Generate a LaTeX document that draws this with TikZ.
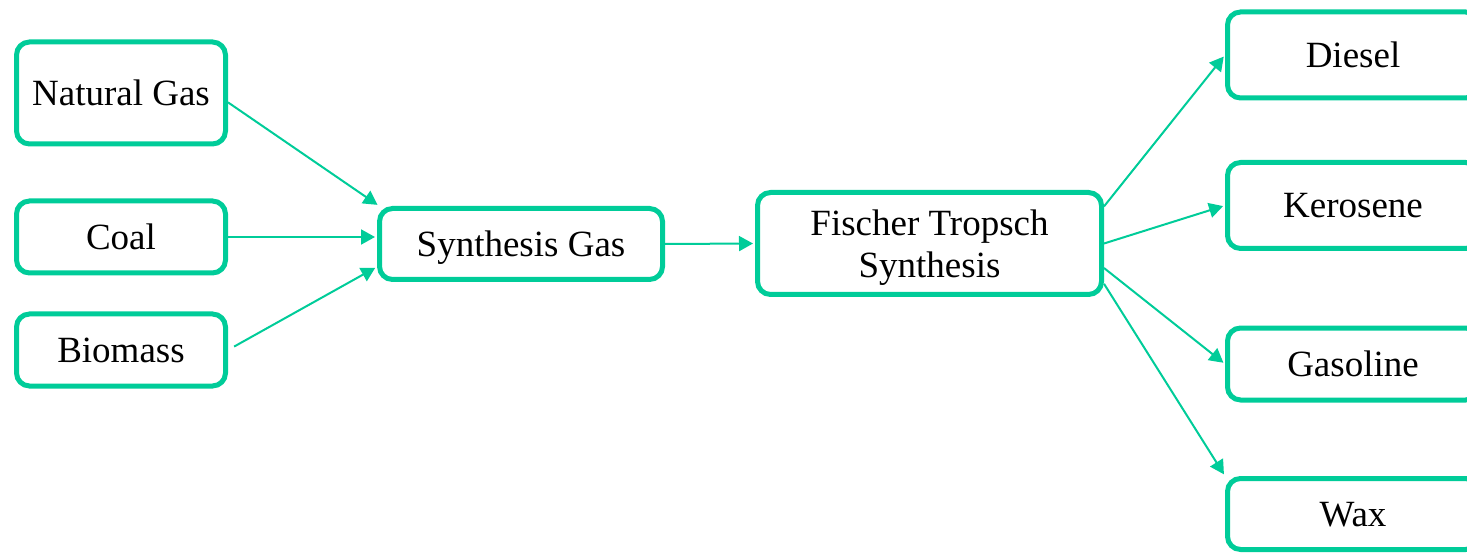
\documentclass[tikz,border=0pt]{standalone}
\usepackage{fontspec}
\setmainfont{Liberation Serif}
\usetikzlibrary{arrows.meta}
\definecolor{ftgreen}{RGB}{0,204,153}

\begin{document}
\begin{tikzpicture}[x=1pt,y=-1pt,
	proc/.style={draw=ftgreen, line width=5pt, rounded corners=13pt, inner sep=0pt, text depth=0pt, align=center, font=\fontsize{37}{42}\selectfont},
	flow/.style={draw=ftgreen, line width=2pt, shorten >=2pt, -{Triangle[length=14pt,width=15pt]}}]
	\clip (0,0) rectangle (1467,553);
	%\draw[help lines] (0,0) grid[step=100] (1467,553);
	% feedstocks
	\node[proc, minimum width=209pt, minimum height=102pt] (ng) at (121,93) {Natural Gas};
	\node[proc, minimum width=209pt, minimum height=72pt] (coal) at (121,237) {Coal};
	\node[proc, minimum width=209pt, minimum height=72pt] (bio) at (121,350) {Biomass};
	% process steps
	\node[proc, minimum width=283pt, minimum height=71pt] (sg) at (521,244) {Synthesis Gas};
	\node[proc, minimum width=344pt, minimum height=102pt] (ft) at (929.5,243.5) {Fischer Tropsch\\Synthesis};
	% products
	\node[proc, minimum width=251pt, minimum height=86pt] (diesel) at (1353,55) {Diesel};
	\node[proc, minimum width=251pt, minimum height=86pt] (kero) at (1353,205.5) {Kerosene};
	\node[proc, minimum width=251pt, minimum height=72pt] (gasoline) at (1353,364) {Gasoline};
	\node[proc, minimum width=251pt, minimum height=71pt] (wax) at (1353,514) {Wax};
	% arrows
	\draw[flow] (ng.-5) -- (sg.165);
	\draw[flow] (coal.east) -- (coal.east -| sg.west);
	\draw[flow, shorten <=7pt] (bio.east) -- (sg.189);
	\draw[flow] (sg.east) -- (ft.west);
	\draw[flow] (ft.12) -- (diesel.west);
	\draw[flow] (ft.0) -- (kero.west);
	\draw[flow] (ft.-8) -- (gasoline.west);
	\draw[flow] (ft.-13) -- (wax.north west);
\end{tikzpicture}
\end{document}
